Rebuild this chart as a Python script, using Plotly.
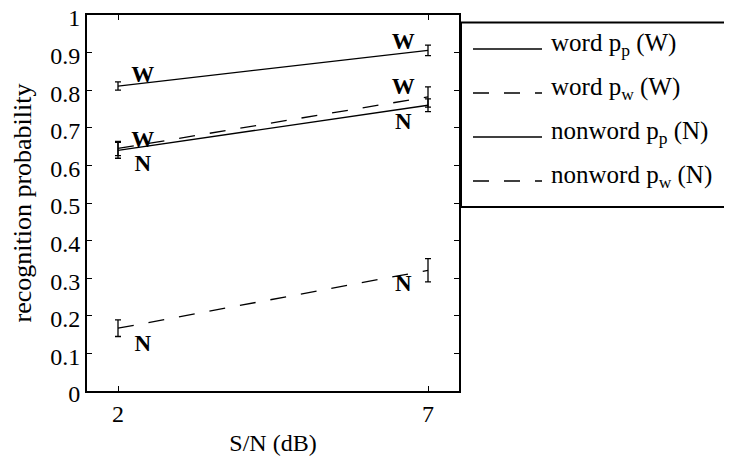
import plotly.graph_objects as go

# S/N levels (dB)
snr = [2, 7]

# recognition probabilities and error bar half-widths
word_pp = [0.811, 0.906]
word_pp_err = [0.011, 0.014]
word_pw = [0.645, 0.782]
word_pw_err = [0.019, 0.027]
nonword_pp = [0.640, 0.760]
nonword_pp_err = [0.021, 0.017]
nonword_pw = [0.167, 0.321]
nonword_pw_err = [0.022, 0.031]

# letter markers placed next to the data points
letter_snr = [2.4, 6.6]
word_pp_letter_y = [0.836, 0.925]
word_pw_letter_y = [0.664, 0.805]
nonword_pp_letter_y = [0.601, 0.712]
nonword_pw_letter_y = [0.122, 0.281]

legend_labels = [
    "word p<sub>p</sub> (W)",
    "word p<sub>w</sub> (W)",
    "nonword p<sub>p</sub> (N)",
    "nonword p<sub>w</sub> (N)",
]
legend_dashes = ["solid", "16px,15px", "solid", "16px,15px"]

FONT = "Liberation Serif"
# the page body adds an 8px offset, so the figure is 8px smaller and margins shifted
OFF = 8
W, H = 732 - OFF, 458 - OFF
L, R, T, B = 87 - OFF, 459 - OFF, 15 - OFF, 391 - OFF

fig = go.Figure()

series = [
    (word_pp, word_pp_err, "solid", word_pp_letter_y, "W"),
    (word_pw, word_pw_err, "16px,15px", word_pw_letter_y, "W"),
    (nonword_pp, nonword_pp_err, "solid", nonword_pp_letter_y, "N"),
    (nonword_pw, nonword_pw_err, "16px,15px", nonword_pw_letter_y, "N"),
]

for values, errors, dash, letter_y, letter in series:
    fig.add_trace(
        go.Scatter(
            x=snr,
            y=values,
            mode="lines",
            line=dict(color="black", width=1.3, dash=dash),
            error_y=dict(type="data", array=errors, color="black", thickness=1.3, width=3),
            showlegend=False,
        )
    )
    fig.add_trace(
        go.Scatter(
            x=letter_snr,
            y=letter_y,
            mode="text",
            text=[letter, letter],
            textfont=dict(family=FONT, size=23, color="black", weight="bold"),
            showlegend=False,
        )
    )


# window pixel -> paper coordinates
def px_x(p):
    return (p - OFF - L) / (R - L)


def px_y(p):
    return (B - (p - OFF)) / (B - T)


# hand-drawn legend box, running off the right edge like the original
fig.add_shape(
    type="rect", xref="paper", yref="paper",
    x0=px_x(461), x1=px_x(780), y0=px_y(207), y1=px_y(22.5),
    line=dict(color="black", width=2),
)
row_y = [49, 93, 137, 181]
for label, dash, y in zip(legend_labels, legend_dashes, row_y):
    fig.add_shape(
        type="line", xref="paper", yref="paper",
        x0=px_x(473), x1=px_x(542), y0=px_y(y), y1=px_y(y),
        line=dict(color="black", width=1.3, dash=dash),
    )
    fig.add_annotation(
        x=px_x(549), y=px_y(y - 5), xref="paper", yref="paper",
        text=label, showarrow=False, xanchor="left", yanchor="middle",
        font=dict(family=FONT, size=25, color="black"),
    )

axis_common = dict(
    showline=True,
    linecolor="black",
    linewidth=2,
    mirror="ticks",
    ticks="inside",
    ticklen=5,
    tickwidth=1,
    tickcolor="black",
    showgrid=False,
    zeroline=False,
    automargin=False,
    ticklabeloverflow="allow",
    tickfont=dict(family=FONT, size=24, color="black"),
)

fig.update_xaxes(
    range=[1.5, 7.5],
    tickvals=snr,
    title=dict(text="S/N (dB)", font=dict(family=FONT, size=24, color="black"), standoff=8),
    **axis_common,
)
fig.update_yaxes(
    range=[0, 1],
    dtick=0.1,
    tickformat="~g",
    ticklabelstandoff=0,
    ticklabelshift=3,
    title=dict(text="recognition probability", font=dict(family=FONT, size=26, color="black"), standoff=12),
    **axis_common,
)

fig.update_layout(
    template="none",
    width=W,
    height=H,
    margin=dict(l=L, r=W - R, t=T, b=H - B),
    plot_bgcolor="white",
    paper_bgcolor="white",
    font=dict(family=FONT, color="black"),
)

fig.write_html("out.html")
